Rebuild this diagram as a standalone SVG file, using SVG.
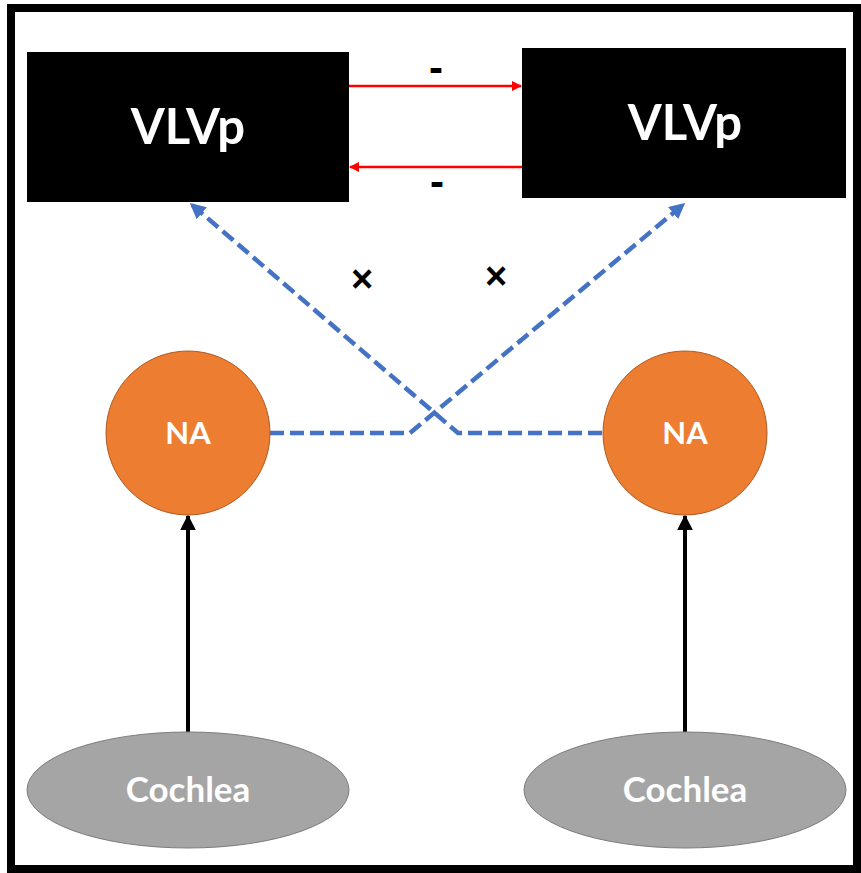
<svg xmlns="http://www.w3.org/2000/svg" width="861" height="873" viewBox="0 0 861 873">
<style>
.lbl{font-family:Lato,"Open Sans","Liberation Sans",sans-serif;font-weight:bold;fill:#fff;text-anchor:middle}
.red{stroke:#FF0000;stroke-width:2.5;fill:none}
.blue{stroke:#4472C4;stroke-width:4.5;fill:none;stroke-dasharray:14 6}
.blk{stroke:#000;stroke-width:4;fill:none}
.mark{font-family:"Liberation Sans",Arial,sans-serif;font-weight:bold;fill:#000;text-anchor:middle}
</style>
<defs>
<marker id="ar" viewBox="0 0 10 10" refX="9" refY="5" markerWidth="4" markerHeight="4" orient="auto" markerUnits="strokeWidth"><path d="M0,0L10,5L0,10z" fill="#FF0000"/></marker>
<marker id="ab" viewBox="0 0 10 10" refX="9" refY="5" markerWidth="3.5" markerHeight="3.5" orient="auto" markerUnits="strokeWidth"><path d="M0,0L10,5L0,10z" fill="#4472C4"/></marker>
<marker id="ak" viewBox="0 0 10 10" refX="9" refY="5" markerWidth="4" markerHeight="4" orient="auto" markerUnits="strokeWidth"><path d="M0,0L10,5L0,10z" fill="#000"/></marker>
</defs>
<rect x="0" y="0" width="861" height="873" fill="#fff"/>
<rect x="11" y="8" width="846" height="861" fill="none" stroke="#000" stroke-width="8"/>
<g id="connectors">
<line class="red" x1="349" y1="86" x2="521" y2="86" marker-end="url(#ar)"/>
<line class="red" x1="522" y1="167" x2="350" y2="167" marker-end="url(#ar)"/>
<polyline class="blue" points="270,433 410,433 684,204" marker-end="url(#ab)"/>
<polyline class="blue" points="602,433 458,433 191,204" marker-end="url(#ab)"/>
<line class="blk" x1="188" y1="732" x2="188" y2="516" marker-end="url(#ak)"/>
<line class="blk" x1="685" y1="732" x2="685" y2="516" marker-end="url(#ak)"/>
<text class="mark" x="436" y="82" font-size="42">-</text>
<text class="mark" x="437" y="196" font-size="42">-</text>
<text class="mark" x="362" y="292" font-size="38">×</text>
<text class="mark" x="496" y="289" font-size="38">×</text>
</g>
<g id="vlvp-left">
<rect x="27" y="52" width="322" height="150" fill="#000"/>
<text class="lbl" x="188" y="144" font-size="49">VLVp</text>
</g>
<g id="vlvp-right">
<rect x="522" y="48" width="324" height="150" fill="#000"/>
<text class="lbl" x="685" y="140" font-size="49">VLVp</text>
</g>
<g id="na-left">
<circle cx="188" cy="433" r="82" fill="#ED7D31" stroke="#AE5A21" stroke-width="1"/>
<text class="lbl" x="188" y="444" font-size="31">NA</text>
</g>
<g id="na-right">
<circle cx="685" cy="433" r="82" fill="#ED7D31" stroke="#AE5A21" stroke-width="1"/>
<text class="lbl" x="685" y="444" font-size="31">NA</text>
</g>
<g id="cochlea-left">
<ellipse cx="188" cy="790" rx="161" ry="58" fill="#A5A5A5" stroke="#7C7C7C" stroke-width="1"/>
<text class="lbl" x="188" y="802" font-size="35">Cochlea</text>
</g>
<g id="cochlea-right">
<ellipse cx="685" cy="790" rx="161" ry="58" fill="#A5A5A5" stroke="#7C7C7C" stroke-width="1"/>
<text class="lbl" x="685" y="802" font-size="35">Cochlea</text>
</g>
</svg>
